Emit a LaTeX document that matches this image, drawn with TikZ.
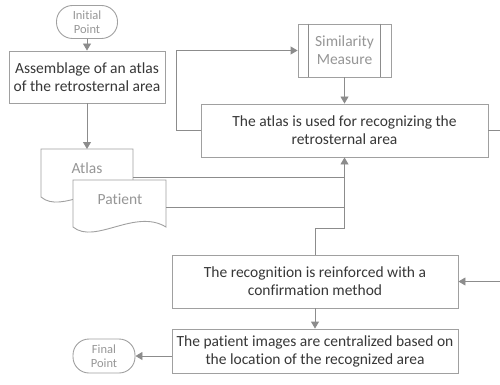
\documentclass[tikz,border=0pt]{standalone}
\usepackage{fontspec}
\setmainfont{Carlito}[Ligatures=CommonOff]
\usetikzlibrary{arrows.meta}
\definecolor{lineg}{RGB}{140,140,140}
\definecolor{boxg}{RGB}{160,160,160}
\definecolor{txtd}{RGB}{55,55,55}
\definecolor{txtl}{RGB}{150,150,150}
\tikzset{
  arr/.style={draw=lineg, line width=0.9pt, -{Triangle[length=7pt,width=8pt]}},
  con/.style={draw=lineg, line width=0.9pt},
  proc/.style={draw=boxg, line width=0.9pt, fill=white, align=center, text=txtd,
    font=\fontsize{15.5}{18}\selectfont, inner sep=0pt},
  term/.style={draw=boxg, line width=0.9pt, rounded corners=16pt, align=center, text=txtl,
    font=\fontsize{12.5}{14.5}\selectfont, inner sep=0pt},
  doctext/.style={text=txtl, font=\fontsize{15.5}{18}\selectfont, inner sep=0pt},
  docshape/.style={draw=boxg, line width=0.9pt, fill=white},
}
\begin{document}
\begin{tikzpicture}[x=1pt,y=-1pt]
\useasboundingbox (0,0) rectangle (500,385);
% terminals
\node[term, minimum width=61pt, minimum height=33pt] (init) at (87,22) {Initial\\Point};
\node[term, minimum width=62pt, minimum height=34pt] (final) at (104,356) {Final\\Point};
% process boxes
\node[proc, minimum width=156pt, minimum height=52pt] (asm) at (87,77) {Assemblage of an atlas\\of the retrosternal area};
\node[proc, minimum width=287pt, minimum height=53pt] (used) at (344.5,130.5) {The atlas is used for recognizing the\\retrosternal area};
\node[proc, minimum width=286pt, minimum height=53pt] (reinf) at (315,281.5) {The recognition is reinforced with a\\confirmation method};
\node[proc, minimum width=286pt, minimum height=44pt] (cent) at (315,351) {The patient images are centralized based on\\the location of the recognized area};
% predefined process
\node[proc, text=txtl, minimum width=93pt, minimum height=53pt] (sim) at (344.5,50.5) {Similarity\\Measure};
\draw[draw=lineg, line width=0.9pt] ([xshift=11pt]sim.north west) -- ([xshift=11pt]sim.south west)
  ([xshift=-11pt]sim.north east) -- ([xshift=-11pt]sim.south east);
% documents
\draw[docshape] (41,149) -- (133,149) -- (133,197) .. controls (102,178) and (62,215) .. (41,197) -- cycle;
\node[doctext] (atlas) at (87,168) {Atlas};
\draw[docshape] (73,180) -- (166,180) -- (166,227) .. controls (135,208) and (95,245) .. (73,227) -- cycle;
\node[doctext] (patient) at (120,199) {Patient};
\coordinate (atlasT) at (87,149);
\coordinate (atlasR) at (133,177);
\coordinate (patR) at (166,207);
\coordinate (j) at (344.5,228);
\coordinate (outR) at (500,130.5);
\coordinate (inR) at (500,281.5);
% connectors
\draw[arr] (init) -- (asm);
\draw[arr] (asm.south) -- (atlasT);
\draw[con] (atlasR) -- (atlasR -| used.south);
\draw[con] (patR) -- (patR -| used.south);
\draw[arr] (reinf.north) |- (j) -- (used.south);
\draw[arr] (sim.south) -- (used.north);
\draw[arr] (used.west) -- ++(-24,0) |- (sim.west);
\draw[con] (used.east) -- (outR);
\draw[arr] (inR) -- (reinf.east);
\draw[arr] (reinf.south) -- (cent.north);
\draw[arr] (final.east -| cent.west) -- (final.east);
\end{tikzpicture}
\end{document}
